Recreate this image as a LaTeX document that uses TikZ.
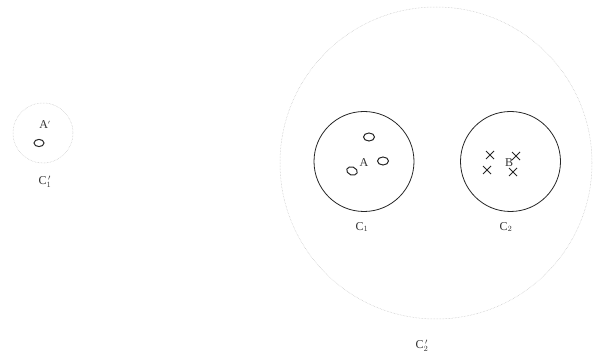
\documentclass[tikz,border=0pt]{standalone}
\usepackage{fontspec}
\setmainfont{Liberation Serif}
\begin{document}
\begin{tikzpicture}[x=1pt,y=-1pt,
  dotcirc/.style={draw=black!25, densely dotted, line width=0.5pt},
  solidcirc/.style={draw=black!85, line width=0.8pt},
  oval/.style={draw=black!85, line width=1pt},
  lbl/.style={text=black!80, font=\fontsize{12}{13}\selectfont, inner sep=0pt},
  xmark/.style={draw=black!85, line width=0.8pt}]
\useasboundingbox (0,0) rectangle (595,358);
% left small circle
\node[dotcirc, circle, minimum size=60pt, inner sep=0pt] (c1p) at (43,133) {};
\draw[oval] (39,143) ellipse (5pt and 3.6pt);
\node[lbl] (lA) at (45,125) {A$^{\scriptscriptstyle\prime}$};
\node[lbl] (lc1p) at (45,182) {C$_1^{\,\prime}$};
% big dotted circle
\node[dotcirc, circle, minimum size=312pt, inner sep=0pt] (c2p) at (436,163) {};
\node[lbl] (lc2p) at (422,346) {C$_2^{\,\prime}$};
% C1
\node[solidcirc, circle, minimum size=100pt, inner sep=0pt] (c1) at (364,161.5) {};
\node[lbl] (lc1) at (362,227) {C$_1$};
\draw[oval] (369,137) ellipse (5.5pt and 4pt);
\draw[oval] (383,161) ellipse (5.5pt and 4pt);
\draw[oval, rotate around={-20:(352,171)}] (352,171) ellipse (5.5pt and 4pt);
\node[lbl] (lA1) at (364,163) {A};
% C2
\node[solidcirc, circle, minimum size=100pt, inner sep=0pt] (c2) at (510.5,161.5) {};
\node[lbl] (lc2) at (506,227) {C$_2$};
\foreach \p in {(490,155),(487,170),(516,156),(513,172)}{
  \draw[xmark] \p ++(-4,-4) -- ++(8,8) ++(-8,0) -- ++(8,-8);
}
\node[lbl] (lB) at (509,163) {B};
\end{tikzpicture}
\end{document}
